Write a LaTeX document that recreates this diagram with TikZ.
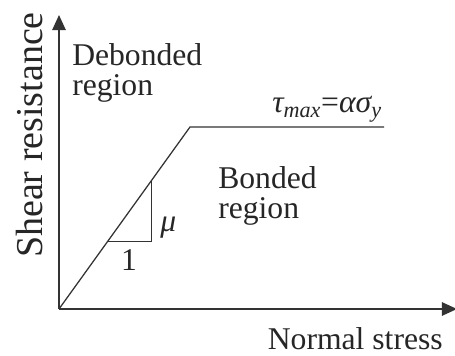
\documentclass[tikz,border=0pt]{standalone}
\usepackage{fontspec}
\setmainfont{Liberation Serif}
\usetikzlibrary{arrows.meta}

\tikzset{
    axis/.style={line width=0.9pt, draw=black!80, -{Triangle[length=0.38cm, width=0.34cm]}},
    curve/.style={line width=0.9pt, draw=black!80},
    lbl/.style={inner sep=0pt, text=black!85, font=\fontsize{22.5}{21.5}\selectfont},
}

\begin{document}
\begin{tikzpicture}[x=0.025cm, y=0.025cm]
    \useasboundingbox (0,0) rectangle (455,356);
    % axes
    \coordinate (O) at (59,47);
    \coordinate (Ytip) at (59,341);
    \coordinate (Xtip) at (457,47);
    \draw[axis] (O)--(Ytip);
    \draw[axis] (O)--(Xtip);
    % bilinear law
    \coordinate (K) at (190,229);
    \coordinate (E) at (384,229);
    \draw[curve] (O)--(K)--(E);
    % slope triangle
    \coordinate (A) at (108,115);
    \coordinate (B) at (151,115);
    \coordinate (C) at (151,175);
    \draw[curve, line width=0.7pt] (A)--(B)--(C);
    \node[lbl, anchor=base] (one) at (129,85) {1};
    \node[lbl, anchor=base west] (mu) at (160,124) {\itshape μ};
    % labels
    \node[lbl, anchor=base west, align=left] (deb) at (72,260.5) {Debonded\\region};
    \node[lbl, anchor=base west, align=left] (bon) at (218,137.5) {Bonded\\region};
    \node[lbl, anchor=base west] (tau) at (272,243) {{\itshape τ\textsubscript{max}}={\itshape ασ\textsubscript{y}}};
    \node[lbl, anchor=base east] (xlab) at (443,6) {Normal stress};
    \node[lbl, anchor=base, rotate=90, font=\fontsize{27}{30}\selectfont] (ylab) at (42,221) {Shear resistance};
\end{tikzpicture}
\end{document}
